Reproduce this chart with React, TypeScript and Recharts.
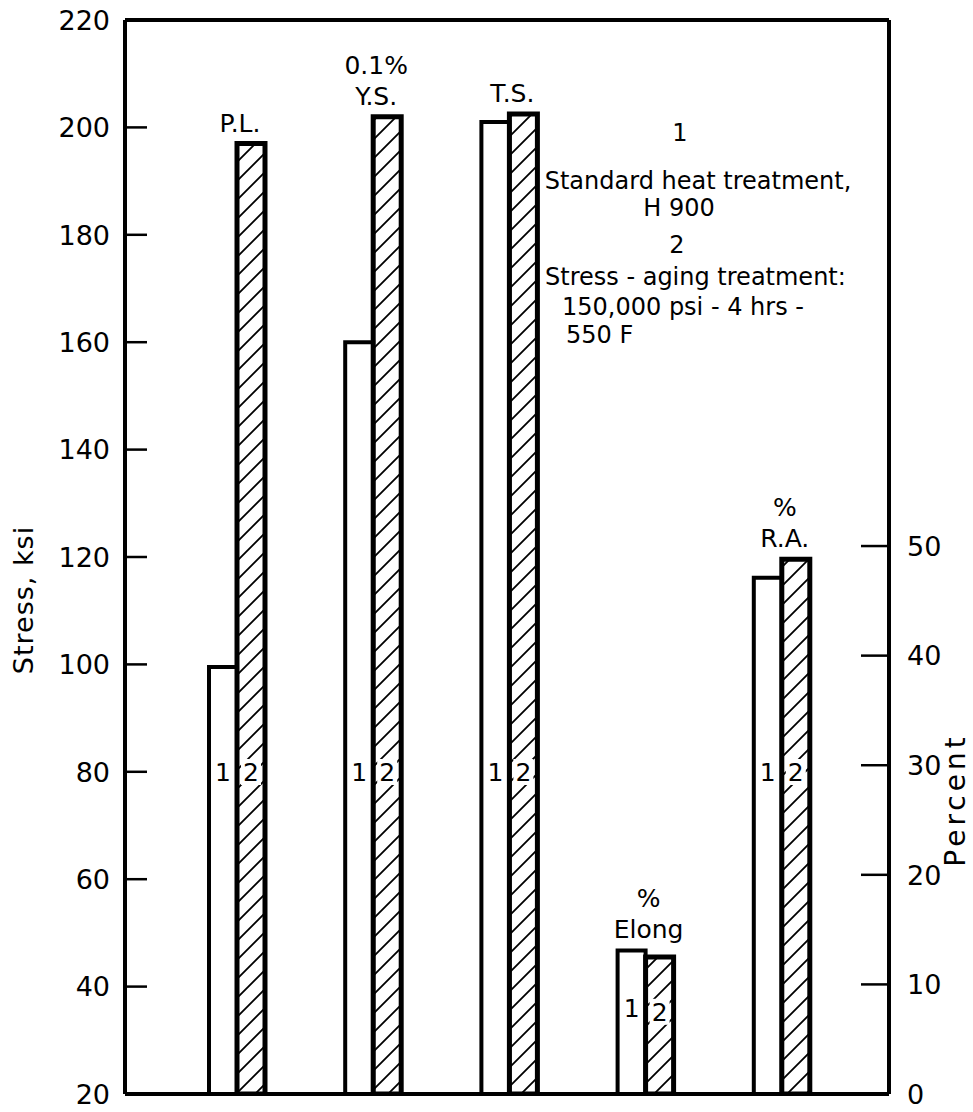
import React from 'react';
import { BarChart, Bar, XAxis, YAxis, LabelList } from 'recharts';

// ---------- data ----------
const categories = ['P.L.', '0.1% Y.S.', 'T.S.', '% Elong', '% R.A.'];
const categoryLabelLines = [['P.L.'], ['0.1%', 'Y.S.'], ['T.S.'], ['%', 'Elong'], ['%', 'R.A.']];
// Stress, ksi (left axis)
const stress1 = [99.5, 160, 201, null, null]; // 1: standard heat treatment
const stress2 = [197, 202, 202.5, null, null]; // 2: stress-aging treatment
// Percent (right axis)
const percent1 = [null, null, null, 13.1, 47.1];
const percent2 = [null, null, null, 12.5, 48.8];

const stressTicks = [20, 40, 60, 80, 100, 120, 140, 160, 180, 200, 220];
const percentTicks = [0, 10, 20, 30, 40, 50];

const legendLines = [
  '1',
  'Standard heat treatment,',
  'H 900',
  '2',
  'Stress - aging treatment:',
  '150,000 psi - 4 hrs -',
  '550 F',
];

const data = categories.map((c, i) => ({
  category: c,
  s1: stress1[i],
  s2: stress2[i],
  p1: percent1[i],
  p2: percent2[i],
}));

const FONT = 'DejaVu Sans';

const LeftTick = (props: any) => {
  const { x, y, payload } = props;
  return (
    <g>
      <line x1={x + 15} x2={x + 37} y1={y} y2={y} stroke="#000" strokeWidth={2.5} />
      <text x={x} y={y} dy="0.36em" textAnchor="end" fontSize={27} fontFamily={FONT} fill="#000">
        {payload.value}
      </text>
    </g>
  );
};

const RightTick = (props: any) => {
  const { x, y, payload } = props;
  return (
    <g>
      <line x1={x - 18} x2={x - 46} y1={y} y2={y} stroke="#000" strokeWidth={2.5} />
      <text x={x} y={y} dy="0.36em" textAnchor="start" fontSize={27} fontFamily={FONT} fill="#000">
        {payload.value}
      </text>
    </g>
  );
};

const getBox = (props: any) => {
  const vb = props.viewBox && props.viewBox.width !== undefined ? props.viewBox : props;
  return { x: Number(vb.x), y: Number(vb.y), width: Number(vb.width), height: Number(vb.height) };
};

const makeNumberLabel = (num: string, boxed: boolean) => (props: any) => {
  const { value } = props;
  if (value == null) return null;
  const { x, y, width, height } = getBox(props);
  if (!isFinite(height) || height <= 0) return null;
  const bottom = y + height;
  const off = height > 400 ? 322 : height * 0.6;
  const cx = x + width / 2;
  const cy = bottom - off;
  return (
    <g>
      {boxed && <rect x={cx - 10} y={cy - 13} width={20} height={26} fill="#fff" />}
      <text x={cx} y={cy} dy="0.36em" textAnchor="middle" fontSize={25} fontFamily={FONT} fill="#000">
        {num}
      </text>
    </g>
  );
};

const makeCategoryLabel = (self: (number | null)[], other: (number | null)[], isFirst: boolean) => (props: any) => {
  const value = props.value;
  if (value == null) return null;
  const idx = self.findIndex((v) => v === Number(value));
  if (idx < 0) return null;
  const v = self[idx] as number;
  const o = other[idx];
  if (o != null && (isFirst ? !(v > o) : !(v >= o))) return null;
  const { x, y, width } = getBox(props);
  const cx = (isFirst ? x + width : x) + 3;
  const lines = categoryLabelLines[idx];
  const baseY = y - 12;
  return (
    <g>
      {lines.map((ln, k) => (
        <text
          key={k}
          x={cx}
          y={baseY - (lines.length - 1 - k) * 31}
          textAnchor="middle"
          fontSize={25}
          fontFamily={FONT}
          fill="#000"
        >
          {ln}
        </text>
      ))}
    </g>
  );
};

export default function App() {
  const legendPos = [
    { x: 680, y: 132, anchor: 'middle' },
    { x: 698, y: 180, anchor: 'middle' },
    { x: 679, y: 207, anchor: 'middle' },
    { x: 677, y: 244, anchor: 'middle' },
    { x: 545, y: 276, anchor: 'start' },
    { x: 562, y: 306, anchor: 'start' },
    { x: 566, y: 334, anchor: 'start' },
  ];
  return (
    <div style={{ position: 'absolute', left: 0, top: 0, width: 973, height: 1112, background: '#fff' }}>
      <BarChart
        width={973}
        height={1112}
        data={data}
        margin={{ top: 19, right: 0, bottom: 17, left: 0 }}
        barGap={0}
      >
        <defs>
          <pattern id="hatch" patternUnits="userSpaceOnUse" width={19} height={19}>
            <path d="M-5,5 L5,-5 M0,19 L19,0 M14,24 L24,14" stroke="#000" strokeWidth={1.8} />
          </pattern>
        </defs>
        <XAxis
          xAxisId="b"
          dataKey="category"
          orientation="bottom"
          height={1}
          tick={false}
          tickLine={false}
          axisLine={{ stroke: '#000', strokeWidth: 4 }}
          padding={{ left: 44, right: 39 }}
        />
        <XAxis
          xAxisId="t"
          dataKey="category"
          orientation="top"
          height={1}
          tick={false}
          tickLine={false}
          axisLine={{ stroke: '#000', strokeWidth: 4 }}
          padding={{ left: 44, right: 39 }}
        />
        <YAxis
          yAxisId="left"
          width={125}
          domain={[20, 220]}
          ticks={stressTicks}
          interval={0}
          allowDataOverflow
          tickSize={0}
          tickMargin={15}
          tickLine={false}
          tick={<LeftTick />}
          axisLine={{ stroke: '#000', strokeWidth: 4 }}
        />
        <YAxis
          yAxisId="right"
          orientation="right"
          width={84}
          domain={[0, 98]}
          ticks={percentTicks}
          interval={0}
          allowDataOverflow
          tickSize={0}
          tickMargin={18}
          tickLine={false}
          tick={<RightTick />}
          axisLine={{ stroke: '#000', strokeWidth: 4 }}
        />
        <Bar xAxisId="b" yAxisId="left" dataKey="s1" barSize={28} fill="#fff" stroke="#000" strokeWidth={4} isAnimationActive={false}>
          <LabelList dataKey="s1" content={makeNumberLabel('1', false)} />
          <LabelList dataKey="s1" content={makeCategoryLabel(stress1, stress2, true)} />
        </Bar>
        <Bar xAxisId="b" yAxisId="left" dataKey="s2" barSize={28} fill="url(#hatch)" stroke="#000" strokeWidth={5} isAnimationActive={false}>
          <LabelList dataKey="s2" content={makeNumberLabel('2', true)} />
          <LabelList dataKey="s2" content={makeCategoryLabel(stress2, stress1, false)} />
        </Bar>
        <Bar xAxisId="t" yAxisId="right" dataKey="p1" barSize={28} fill="#fff" stroke="#000" strokeWidth={4} isAnimationActive={false}>
          <LabelList dataKey="p1" content={makeNumberLabel('1', false)} />
          <LabelList dataKey="p1" content={makeCategoryLabel(percent1, percent2, true)} />
        </Bar>
        <Bar xAxisId="t" yAxisId="right" dataKey="p2" barSize={28} fill="url(#hatch)" stroke="#000" strokeWidth={5} isAnimationActive={false}>
          <LabelList dataKey="p2" content={makeNumberLabel('2', true)} />
          <LabelList dataKey="p2" content={makeCategoryLabel(percent2, percent1, false)} />
        </Bar>
        <g fontFamily={FONT} fill="#000">
          <text x={23} y={600} transform="rotate(-90 23 600)" textAnchor="middle" dy="0.36em" fontSize={27} letterSpacing={1}>
            Stress, ksi
          </text>
          <text x={955} y={800} transform="rotate(-90 955 800)" textAnchor="middle" dy="0.36em" fontSize={28} letterSpacing={4}>
            Percent
          </text>
          {legendLines.map((ln, i) => (
            <text
              key={i}
              x={legendPos[i].x}
              y={legendPos[i].y}
              dy="0.36em"
              textAnchor={legendPos[i].anchor as any}
              fontSize={24}
            >
              {ln}
            </text>
          ))}
        </g>
      </BarChart>
    </div>
  );
}
